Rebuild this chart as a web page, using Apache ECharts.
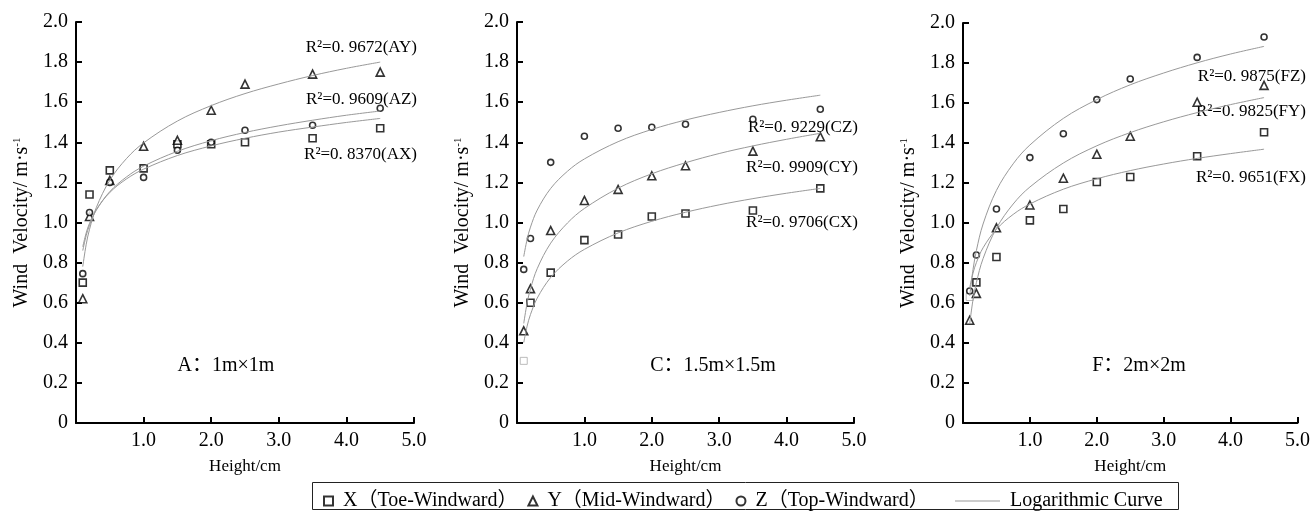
<!DOCTYPE html>
<html>
<head>
<meta charset="utf-8">
<script src="https://cdn.jsdelivr.net/npm/echarts@6/dist/echarts.min.js"></script>
<style>
  html, body { margin: 0; padding: 0; background: #fff; }
  #chart { width: 1313px; height: 516px; }
</style>
</head>
<body>
<div id="chart"></div>
<script>
// 测点高度与拟合曲线取样高度
const heights = [0.1, 0.2, 0.5, 1.0, 1.5, 2.0, 2.5, 3.5, 4.5]
const fitHeights = [0.1, 0.15, 0.2, 0.3, 0.5, 0.75, 1.0, 1.5, 2.0, 2.5, 3.0, 3.5, 4.0, 4.5]

// A: 1m×1m
const aX = [0.70, 1.14, 1.26, 1.27, 1.39, 1.39, 1.40, 1.42, 1.47]
const aY = [0.62, 1.03, 1.21, 1.38, 1.41, 1.56, 1.69, 1.74, 1.75]
const aZ = [0.745, 1.05, 1.20, 1.225, 1.36, 1.40, 1.46, 1.485, 1.57]
const aXFit = [0.879, 0.947, 0.996, 1.064, 1.150, 1.218, 1.266, 1.334, 1.382, 1.420, 1.451, 1.476, 1.499, 1.519]
const aYFit = [0.780, 0.889, 0.966, 1.074, 1.211, 1.320, 1.397, 1.506, 1.583, 1.643, 1.691, 1.733, 1.769, 1.800]
const aZFit = [0.860, 0.934, 0.986, 1.061, 1.154, 1.228, 1.281, 1.355, 1.408, 1.449, 1.482, 1.510, 1.535, 1.556]

// C: 1.5m×1.5m
const cX = [0.31, 0.60, 0.75, 0.912, 0.94, 1.03, 1.045, 1.06, 1.17]
const cY = [0.46, 0.67, 0.96, 1.11, 1.165, 1.233, 1.283, 1.356, 1.428]
const cZ = [0.766, 0.92, 1.30, 1.43, 1.47, 1.475, 1.49, 1.515, 1.565]
const cXFit = [0.401, 0.483, 0.541, 0.623, 0.726, 0.808, 0.866, 0.948, 1.006, 1.051, 1.088, 1.119, 1.146, 1.170]
const cYFit = [0.497, 0.598, 0.669, 0.770, 0.897, 0.998, 1.070, 1.171, 1.243, 1.298, 1.344, 1.382, 1.415, 1.445]
const cZFit = [0.830, 0.916, 0.977, 1.062, 1.170, 1.256, 1.317, 1.403, 1.464, 1.511, 1.549, 1.582, 1.610, 1.635]

// F: 2m×2m
const fX = [0.63, 0.703, 0.83, 1.013, 1.07, 1.205, 1.23, 1.334, 1.454]
const fY = [0.514, 0.648, 0.976, 1.09, 1.224, 1.344, 1.434, 1.604, 1.688]
const fZ = [0.66, 0.84, 1.07, 1.327, 1.446, 1.617, 1.72, 1.828, 1.93]
const fXFit = [0.676, 0.750, 0.802, 0.876, 0.969, 1.043, 1.095, 1.169, 1.221, 1.262, 1.295, 1.323, 1.347, 1.369]
const fYFit = [0.496, 0.617, 0.702, 0.822, 0.974, 1.095, 1.180, 1.300, 1.386, 1.452, 1.506, 1.552, 1.592, 1.627]
const fZFit = [0.635, 0.768, 0.862, 0.995, 1.163, 1.296, 1.390, 1.523, 1.617, 1.691, 1.750, 1.801, 1.845, 1.883]

const panelTitles = ['A：1m×1m', 'C：1.5m×1.5m', 'F：2m×2m']
const seriesNames = ['X（Toe-Windward）', 'Y（Mid-Windward）', 'Z（Top-Windward）']
const curveName = 'Logarithmic Curve'
const r2Labels = [
  ['R²=0. 8370(AX)', 'R²=0. 9672(AY)', 'R²=0. 9609(AZ)'],
  ['R²=0. 9706(CX)', 'R²=0. 9909(CY)', 'R²=0. 9229(CZ)'],
  ['R²=0. 9651(FX)', 'R²=0. 9825(FY)', 'R²=0. 9875(FZ)']
]

const panels = [
  { points: [aX, aY, aZ], fits: [aXFit, aYFit, aZFit] },
  { points: [cX, cY, cZ], fits: [cXFit, cYFit, cZFit] },
  { points: [fX, fY, fZ], fits: [fXFit, fYFit, fZFit] }
]

const serif = "'Liberation Serif', 'Noto Sans CJK SC', serif"
const symbols = ['rect', 'triangle', 'circle']
const symbolSizes = [7, 8, 6]

const grids = [
  { left: 76, top: 22, width: 338, height: 401 },
  { left: 517, top: 22, width: 337, height: 401 },
  { left: 963, top: 23, width: 336, height: 400 }
]

const axisLine = { lineStyle: { color: '#000', width: 2 } }
const axisTick = { inside: true, length: 6, lineStyle: { color: '#000', width: 2 } }

const xAxes = grids.map((g, i) => ({
  gridIndex: i,
  type: 'value',
  min: 0,
  max: 5,
  interval: 1,
  axisLine,
  axisTick,
  splitLine: { show: false },
  axisLabel: {
    color: '#000', fontSize: 20, fontFamily: serif, margin: 8,
    formatter: v => (v === 0 ? '' : v.toFixed(1))
  },
  name: 'Height/cm',
  nameLocation: 'middle',
  nameGap: 35,
  nameTextStyle: { color: '#000', fontSize: 17, fontFamily: serif }
}))

const yAxes = grids.map((g, i) => ({
  gridIndex: i,
  type: 'value',
  min: 0,
  max: 2,
  interval: 0.2,
  axisLine,
  axisTick,
  splitLine: { show: false },
  axisLabel: {
    color: '#000', fontSize: 20, fontFamily: serif, margin: 8,
    formatter: v => (v === 0 ? '0' : v.toFixed(1))
  },
  name: 'Wind  Velocity/ m·s{sup|-1}',
  nameLocation: 'middle',
  nameGap: 44,
  nameTextStyle: {
    color: '#000', fontSize: 20, fontFamily: serif,
    rich: { sup: { fontSize: 11, fontFamily: serif, verticalAlign: 'top', padding: [0, 0, 9, 0] } }
  }
}))

const series = []
panels.forEach((p, i) => {
  p.fits.forEach(fit => {
    series.push({
      name: curveName,
      type: 'line',
      xAxisIndex: i,
      yAxisIndex: i,
      smooth: 0.35,
      showSymbol: false,
      silent: true,
      lineStyle: { color: '#999', width: 1 },
      itemStyle: { color: '#999' },
      data: fitHeights.map((h, k) => [h, fit[k]])
    })
  })
  p.points.forEach((vals, j) => {
    series.push({
      name: seriesNames[j],
      type: 'scatter',
      xAxisIndex: i,
      yAxisIndex: i,
      symbol: symbols[j],
      symbolSize: symbolSizes[j],
      itemStyle: { color: '#fff', borderColor: '#000', borderWidth: 1.6 },
      data: vals.map((v, k) => {
        // C、F 的最低一个 X 点在原图里是浅灰色
        if (j === 0 && k === 0 && i > 0) {
          return { value: [heights[k], v], itemStyle: { borderColor: '#aaa', borderWidth: 1 } }
        }
        return [heights[k], v]
      })
    })
  })
})

// R² 标注位置（右对齐）
const r2Pos = [
  [[417, 155], [417, 48], [417, 100]],
  [[858, 223], [858, 168], [858, 128]],
  [[1306, 178], [1306, 112], [1306, 77]]
]
const titlePos = [[226, 366], [713, 366], [1139, 366]]

const graphic = []
r2Labels.forEach((row, i) => {
  row.forEach((t, j) => {
    graphic.push({
      type: 'text',
      x: r2Pos[i][j][0],
      y: r2Pos[i][j][1],
      silent: true,
      style: { text: t, align: 'right', verticalAlign: 'middle', fill: '#000', fontSize: 17, fontFamily: serif }
    })
  })
})
panelTitles.forEach((t, i) => {
  graphic.push({
    type: 'text',
    x: titlePos[i][0],
    y: titlePos[i][1],
    silent: true,
    style: { text: t, align: 'center', verticalAlign: 'middle', fill: '#000', fontSize: 20, fontFamily: serif }
  })
})
// 图例外框
graphic.push({
  type: 'rect',
  silent: true,
  shape: { x: 312.5, y: 482.5, width: 866, height: 27 },
  style: { fill: 'none', stroke: '#222', lineWidth: 1 }
})

const chart = echarts.init(document.getElementById('chart'), null, { renderer: 'canvas' })
chart.setOption({
  animation: false,
  backgroundColor: '#fff',
  grid: grids,
  xAxis: xAxes,
  yAxis: yAxes,
  legend: [
    {
      data: seriesNames,
      left: 318,
      top: 486,
      itemWidth: 9,
      itemHeight: 9,
      itemGap: 10,
      selectedMode: false,
      formatter: n => ' ' + n,
      textStyle: { color: '#000', fontSize: 20, fontFamily: serif }
    },
    {
      data: [{ name: curveName, icon: 'rect' }],
      left: 950,
      top: 486,
      itemWidth: 45,
      itemHeight: 1,
      selectedMode: false,
      itemStyle: { color: '#999' },
      formatter: n => ' ' + n,
      textStyle: { color: '#000', fontSize: 20, fontFamily: serif }
    }
  ],
  graphic,
  series
})
</script>
</body>
</html>
